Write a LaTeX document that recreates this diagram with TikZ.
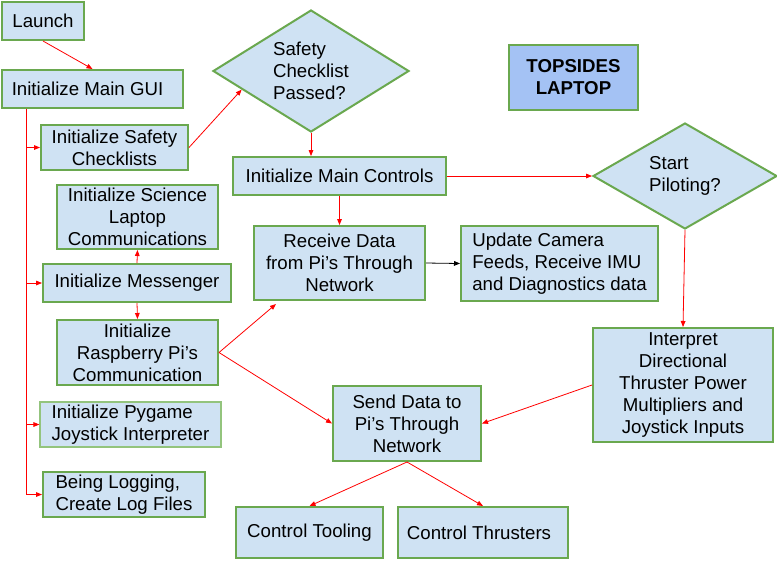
\documentclass[tikz,border=0pt]{standalone}
\usepackage{fontspec}
\setmainfont{Liberation Sans}
\usetikzlibrary{shapes.geometric,arrows.meta,calc}
\definecolor{boxfill}{HTML}{CFE2F3}
\definecolor{boxline}{HTML}{6AA84F}
\definecolor{thinline}{HTML}{93C47D}
\definecolor{titlefill}{HTML}{A4C2F4}
\definecolor{arrred}{HTML}{FF0000}
\newcommand\pxbox[7]{%
 \pgfmathsetmacro\bw{(#5-#3)*0.75}%
 \pgfmathsetmacro\bh{(#6-#4)*0.75}%
 \node[#1, minimum width=\bw pt, minimum height=\bh pt] (#2) at ({(#3+#5)/2},{(#4+#6)/2}) {#7};}
\tikzset{
  box/.style={draw=boxline, fill=boxfill, line width=1.5pt, inner sep=0pt, align=center,
    font=\fontsize{14}{16.5}\selectfont},
  lbox/.style={box, align=left},
  thinbox/.style={box, align=left, draw=thinline, line width=0.9pt},
  titlebox/.style={box, fill=titlefill, font=\fontsize{14}{16.5}\selectfont\bfseries},
  dia/.style={box, shape=diamond, align=left},
  arr/.style={draw=arrred, line width=0.6pt, -{Triangle[length=4.5pt,width=3.5pt]}},
  redline/.style={draw=arrred, line width=0.6pt},
  blackarr/.style={draw=black, line width=0.6pt, -{Triangle[length=4.5pt,width=3.5pt]}}
}
\begin{document}
\begin{tikzpicture}[x=0.75pt,y=-0.75pt]
\useasboundingbox (0,0) rectangle (777,562);
\fill[white] (0,0) rectangle (777,562);
% boxes
\pxbox{box}{la}{2}{2}{84}{40}{Launch}
\pxbox{box}{gui}{2}{70}{183}{108}{Initialize Main GUI\kern7.5pt}
\pxbox{box}{sc}{41}{125}{188}{170}{Initialize Safety\\Checklists}
\pxbox{box}{sl}{57}{185}{218}{249}{Initialize Science\\Laptop\\Communications}
\pxbox{box}{ms}{43}{264}{231}{302}{Initialize Messenger}
\pxbox{box}{rp}{57}{320}{218}{385}{Initialize\\Raspberry Pi’s\\Communication}
\pxbox{thinbox}{pg}{40}{402}{221}{447}{Initialize Pygame\\Joystick Interpreter}
\pxbox{lbox}{lg}{43}{472}{205}{517}{Being Logging,\\Create Log Files}
\pxbox{box}{mc}{233}{157}{446}{195}{Initialize Main Controls}
\pxbox{box}{rd}{254}{226}{425}{300}{Receive Data\\from Pi’s Through\\Network}
\pxbox{lbox}{uc}{461}{226}{658}{301}{Update Camera\\Feeds, Receive IMU\\and Diagnostics data}
\pxbox{box}{ip}{593}{328}{773}{442}{Interpret\\Directional\\Thruster Power\\Multipliers and\\Joystick Inputs}
\pxbox{box}{sd}{333}{386}{481}{461}{Send Data to\\Pi’s Through\\Network}
\pxbox{box}{ct}{236}{507}{383}{558}{Control Tooling}
\pxbox{box}{th}{398}{507}{568}{558}{Control Thrusters\kern6pt}
\pxbox{titlebox}{tl}{509}{45}{638}{110}{TOPSIDES\\LAPTOP}
% diamonds
\pxbox{dia, aspect=1.6}{sdia}{213}{10}{409}{132}{Safety\\Checklist\\Passed?}
\pxbox{dia, aspect=1.74}{sp}{593}{123}{777}{229}{Start\\Piloting?}
% connectors
\draw[arr] (la.south) -- (gui.north);
\coordinate (tr) at ($(gui.south west)+(25,0)$);
\draw[redline] (tr) -- (lg.west -| tr);
\draw[arr] (sc.west -| tr) -- (sc.west);
\draw[arr] (ms.west -| tr) -- (ms.west);
\draw[arr] (pg.west -| tr) -- (pg.west);
\draw[arr] (lg.west -| tr) -- (lg.west);
\draw[arr] (sc.east) -- (sdia.195);
\draw[arr] (sdia.south) -- (sdia.south |- mc.north);
\draw[arr] (mc.east) -- (sp.west);
\draw[arr] (mc.south) -- (rd.north);
\draw[blackarr] (rd.east) -- (uc.west);
\draw[arr] (ms.north) -- (sl.south);
\draw[arr] (ms.south) -- (rp.north);
\draw[arr] (rp.east) -- ($(rd.south west)+(23,3)$);
\draw[arr] (rp.east) -- (sd.west);
\draw[arr] (sp.south) -- (ip.north);
\draw[arr] (ip.west) -- (sd.east);
\draw[arr] (sd.south) -- (ct.north);
\draw[arr] (sd.south) -- (th.north);
\end{tikzpicture}
\end{document}
